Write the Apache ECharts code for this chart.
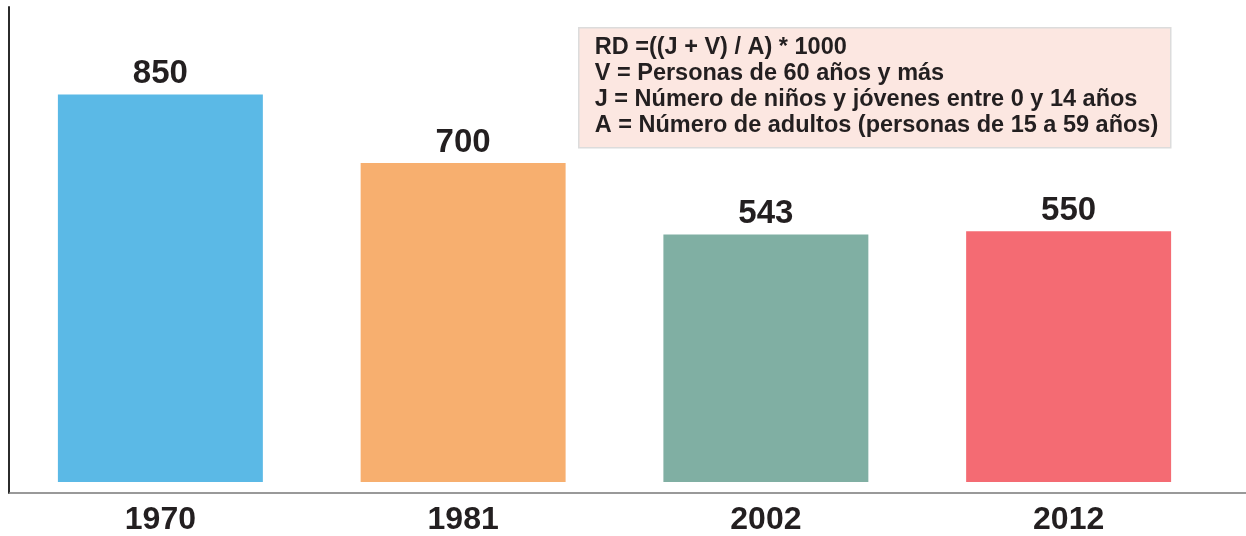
<!DOCTYPE html>
<html>
<head>
    <meta charset="utf-8">
    <title>Relación de dependencia</title>
    <script src="https://cdn.jsdelivr.net/npm/echarts@6/dist/echarts.min.js"></script>
    <style>
        html, body { margin: 0; padding: 0; background: #fff; }
        #chart { width: 1246px; height: 536px; }
    </style>
</head>
<body>
    <div id="chart"></div>
    <script type="text/javascript">
        // data
        var years = ['1970', '1981', '2002', '2012'];
        var values = [850, 700, 543, 550];
        var barColors = ['#5BB9E6', '#F7AF6F', '#80AFA3', '#F46B73'];
        var noteLines = [
            'RD =((J + V) / A) * 1000',
            'V = Personas de 60 años y más',
            'J = Número de niños y jóvenes entre 0 y 14 años',
            'A = Número de adultos (personas de 15 a 59 años)'
        ];
        var yMin = -24, yMax = 1042;

        var font = '"Liberation Sans", Arial, sans-serif';
        var chart = echarts.init(document.getElementById('chart'), null, { renderer: 'canvas' });

        var option = {
            animation: false,
            backgroundColor: '#ffffff',
            grid: { left: 9, right: 26, top: 7, bottom: 40, containLabel: false },
            xAxis: {
                type: 'category',
                data: years,
                axisLine: { show: false },
                axisTick: { show: false },
                axisLabel: {
                    margin: 11,
                    fontFamily: font, fontSize: 32, fontWeight: 'bold', color: '#231F20'
                }
            },
            yAxis: {
                type: 'value',
                min: yMin,
                max: yMax,
                axisLine: { show: true, lineStyle: { color: '#2b2b2b', width: 2 } },
                axisTick: { show: false },
                axisLabel: { show: false },
                splitLine: { show: false }
            },
            series: [{
                type: 'bar',
                barWidth: '67.7%',
                data: values.map(function (v, i) {
                    return { value: v, itemStyle: { color: barColors[i] } };
                }),
                label: {
                    show: true,
                    position: 'top',
                    distance: 4,
                    fontFamily: font, fontSize: 33, fontWeight: 'bold', color: '#231F20'
                }
            }],
            graphic: [
                {
                    type: 'group',
                    left: 578,
                    top: 27,
                    children: [
                        {
                            type: 'rect',
                            shape: { x: 0, y: 0, width: 592, height: 120 },
                            style: { fill: '#FCE7E1', stroke: '#DCDCDC', lineWidth: 1.5 }
                        },
                        {
                            type: 'text',
                            x: 16, y: 7,
                            style: {
                                text: noteLines.join('\n'),
                                font: 'bold 23.5px ' + font,
                                fill: '#231F20',
                                lineHeight: 26
                            }
                        }
                    ]
                }
            ]
        };

        chart.setOption(option);

        // bottom rule: starts at the y axis and runs to the right edge of the page
        var baseY = Math.round(chart.convertToPixel({ yAxisIndex: 0 }, yMin));
        var leftX = chart.convertToPixel({ xAxisIndex: 0 }, years[0]) - 151;
        chart.setOption({
            graphic: [{
                id: 'baseRule',
                type: 'line',
                z: 1,
                shape: { x1: leftX, y1: baseY, x2: chart.getWidth(), y2: baseY },
                style: { stroke: '#999999', lineWidth: 2 }
            }]
        });

        window.onresize = function () { chart.resize(); };
    </script>
</body>
</html>
